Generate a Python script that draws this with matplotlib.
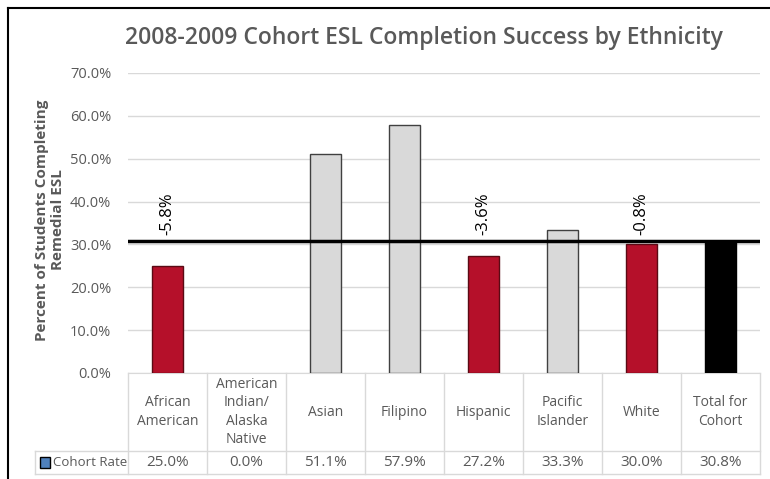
import matplotlib.pyplot as plt
import matplotlib.transforms as mtransforms
from matplotlib.lines import Line2D
from matplotlib.patches import Rectangle

categories = ['African\nAmerican', 'American\nIndian/\nAlaska\nNative', 'Asian', 'Filipino',
              'Hispanic', 'Pacific\nIslander', 'White', 'Total for\nCohort']
rates = [25.0, 0.0, 51.1, 57.9, 27.2, 33.3, 30.0, 30.8]
rate_labels = ['25.0%', '0.0%', '51.1%', '57.9%', '27.2%', '33.3%', '30.0%', '30.8%']
gap_idx = [0, 4, 6]
gap_labels = ['-5.8%', '-3.6%', '-0.8%']
cohort_total = 30.8
yticks = [0, 10, 20, 30, 40, 50, 60, 70]

RED = '#B5102A'
GRAY = '#D9D9D9'
TXT = '#595959'
LINE = '#D9D9D9'

plt.rcParams['font.family'] = ['Open Sans', 'DejaVu Sans']

W, H = 770, 479
fig = plt.figure(figsize=(W / 100, H / 100), dpi=100)
ax = fig.add_axes([128 / W, (H - 373) / H, (760 - 128) / W, 300 / H])

colors = []
edges = []
for i, v in enumerate(rates):
    if v == 0:
        colors.append('none'); edges.append('none')
    elif i == len(rates) - 1:
        colors.append('black'); edges.append('black')
    elif v < cohort_total:
        colors.append(RED); edges.append('#5a0a14')
    else:
        colors.append(GRAY); edges.append('#404040')

x = list(range(len(rates)))
ax.bar(x, rates, width=0.4, color=colors, edgecolor=edges, linewidth=1, zorder=3)
ax.axhline(cohort_total, color='black', linewidth=2.5, zorder=4)

for i, lab in zip(gap_idx, gap_labels):
    ax.text(i, 32.3, lab, rotation=90, ha='center', va='bottom', fontsize=12, color='black', zorder=5)

ax.set_xlim(-0.5, len(rates) - 0.5)
ax.set_ylim(0, 70)
ax.set_yticks(yticks)
ax.set_yticklabels(['%.1f%%' % t for t in yticks], color=TXT, fontsize=10.5)
ax.tick_params(axis='y', length=0, pad=12)
ax.set_xticks([])
ax.yaxis.grid(True, color=LINE, linewidth=1, zorder=0)
for s in ['top', 'right', 'left']:
    ax.spines[s].set_visible(False)
ax.spines['bottom'].set_color(LINE)

# data table under the axis
tr = mtransforms.blended_transform_factory(ax.transData, ax.transAxes)
y_head = -78 / 300
y_bot = -101 / 300
x_lab = -0.5 - 93 / 79
n = len(rates)
for k in range(n + 1):
    ax.add_line(Line2D([k - 0.5, k - 0.5], [0, y_bot], transform=tr, color=LINE, lw=1, clip_on=False))
ax.add_line(Line2D([x_lab, n - 0.5], [y_head, y_head], transform=tr, color=LINE, lw=1, clip_on=False))
ax.add_line(Line2D([x_lab, n - 0.5], [y_bot, y_bot], transform=tr, color=LINE, lw=1, clip_on=False))
ax.add_line(Line2D([x_lab, x_lab], [y_head, y_bot], transform=tr, color=LINE, lw=1, clip_on=False))
for i in range(n):
    ax.text(i, y_head / 2, categories[i], transform=tr, ha='center', va='center',
            fontsize=10, color=TXT, linespacing=1.3)
    ax.text(i, (y_head + y_bot) / 2, rate_labels[i], transform=tr, ha='center', va='center',
            fontsize=11, color=TXT)
ax.text(x_lab + 0.23, (y_head + y_bot) / 2, 'Cohort Rate', transform=tr, ha='left', va='center',
        fontsize=9.5, color=TXT)
ax.add_patch(Rectangle((x_lab + 0.06, (y_head + y_bot) / 2 - 0.018), 0.13, 0.036, transform=tr,
                       facecolor='#4F81BD', edgecolor='black', lw=1, clip_on=False))

fig.text(424 / W, 1 - 38 / H, '2008-2009 Cohort ESL Completion Success by Ethnicity',
         ha='center', va='center', fontsize=16.5, fontweight='semibold', color=TXT)
fig.text(50 / W, 1 - 220 / H, 'Percent of Students Completing\nRemedial ESL', rotation=90,
         ha='center', va='center', fontsize=11, fontweight='bold', color=TXT)

# frame (top and left edges visible in the original crop)
fig.add_artist(Line2D([8 / W, 1], [1 - 8 / H, 1 - 8 / H], transform=fig.transFigure, color='black', lw=1.5))
fig.add_artist(Line2D([8 / W, 8 / W], [0, 1 - 8 / H], transform=fig.transFigure, color='black', lw=1.5))

fig.savefig('out.png', dpi=100)
